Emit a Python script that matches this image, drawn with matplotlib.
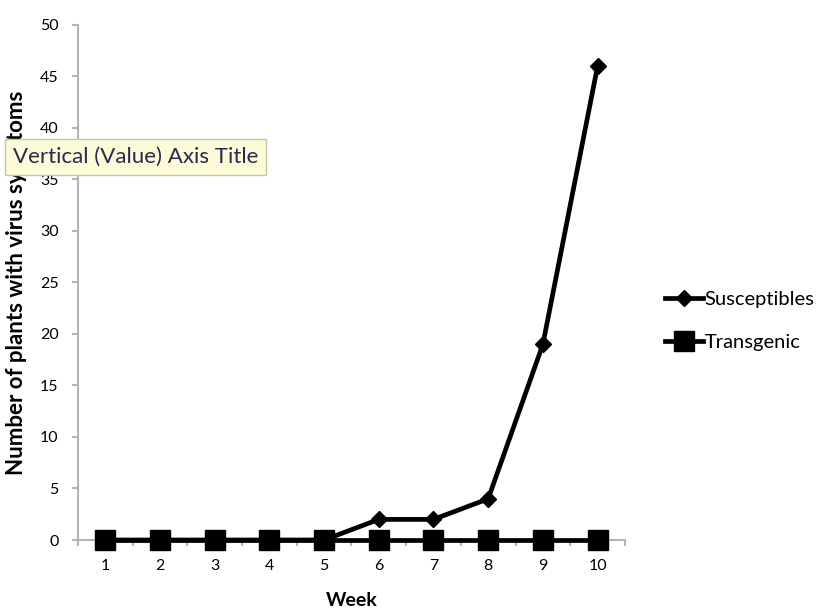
import matplotlib.pyplot as plt
import numpy as np

weeks = [1, 2, 3, 4, 5, 6, 7, 8, 9, 10]
susceptibles = [0, 0, 0, 0, 0, 2, 2, 4, 19, 46]
transgenic = [0, 0, 0, 0, 0, 0, 0, 0, 0, 0]
y_ticks = list(range(0, 51, 5))

plt.rcParams['font.family'] = ['Lato', 'DejaVu Sans']

fig = plt.figure(figsize=(8.25, 6.11), dpi=100)
ax = fig.add_axes([0.0945, 0.1162, 0.663, 0.843])

ax.plot(weeks, susceptibles, color='black', linewidth=3.4, marker='D',
        markersize=8.5, label='Susceptibles', zorder=3, clip_on=False)
ax.plot(weeks, transgenic, color='black', linewidth=3.4, marker='s',
        markersize=14, label='Transgenic', zorder=4, clip_on=False)

ax.set_xlim(0.5, 10.5)
ax.set_ylim(0, 50)
ax.set_xticks(weeks)
ax.set_xticklabels([str(w) for w in weeks], fontsize=11.5)
ax.set_xticks(np.arange(0.5, 11, 1), minor=True)
ax.set_yticks(y_ticks)
ax.set_yticklabels([str(t) for t in y_ticks], fontsize=11.5)

# excel style axes: grey lines, ticks only between categories on x
for side in ['top', 'right']:
    ax.spines[side].set_visible(False)
for side in ['left', 'bottom']:
    ax.spines[side].set_color('#b5b5b5')
    ax.spines[side].set_linewidth(1.5)
ax.tick_params(axis='x', which='major', length=0, pad=14)
ax.tick_params(axis='x', which='minor', length=4, color='#b5b5b5', width=1.5)
ax.tick_params(axis='y', length=4, color='#b5b5b5', width=1.5, pad=10)

ax.set_xlabel('Week', fontsize=14, fontweight='bold', labelpad=13)
ax.set_ylabel('Number of plants with virus symptoms', fontsize=16,
              fontweight='bold', labelpad=9)

ax.legend(loc='center left', bbox_to_anchor=(1.0, 0.425), frameon=False,
          fontsize=14.5, handlelength=1.9, handletextpad=0.05,
          labelspacing=1.3, borderaxespad=1.6)

# hover tooltip over the axis title
fig.text(0.016, 0.743, 'Vertical (Value) Axis Title', fontsize=16,
         color='#2a2a50', va='center', ha='left',
         bbox=dict(boxstyle='square,pad=0.35', facecolor='#fdfbd8',
                   edgecolor='#c8c8a0', linewidth=1))

fig.savefig('out.png', dpi=100)
